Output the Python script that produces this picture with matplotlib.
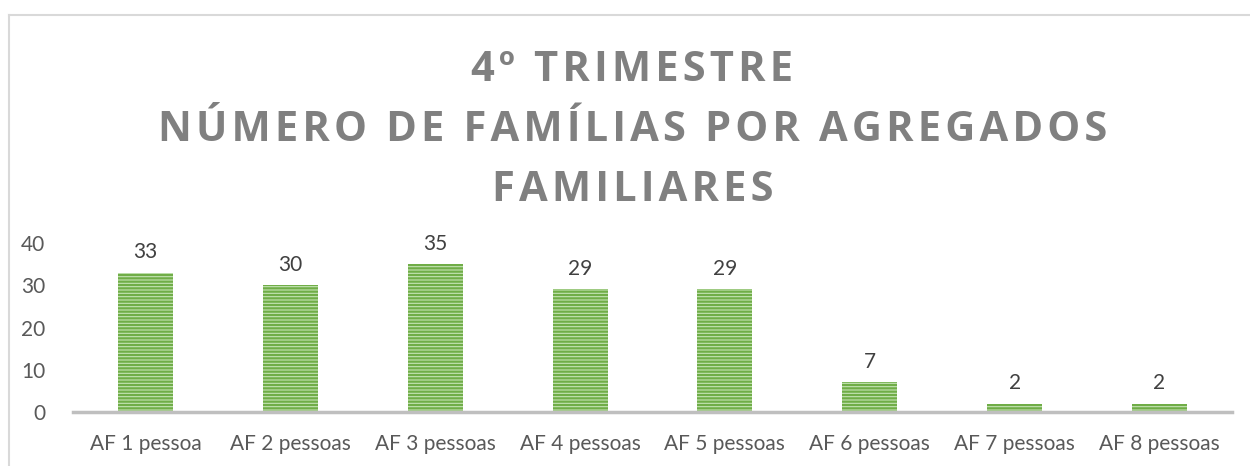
import matplotlib
matplotlib.use("Agg")
import matplotlib.pyplot as plt
from matplotlib.lines import Line2D

categories = ["AF 1 pessoa", "AF 2 pessoas", "AF 3 pessoas", "AF 4 pessoas",
              "AF 5 pessoas", "AF 6 pessoas", "AF 7 pessoas", "AF 8 pessoas"]
values = [33, 30, 35, 29, 29, 7, 2, 2]
yticks = [0, 10, 20, 30, 40]
title_lines = ["4º TRIMESTRE", "NÚMERO DE FAMÍLIAS POR AGREGADOS", "FAMILIARES"]


def spaced(s):
    # letter spacing with hair spaces
    return "\u200a".join(s)


plt.rcParams["hatch.linewidth"] = 1.6
fig = plt.figure(figsize=(12.5, 4.66), dpi=100)
ax = fig.add_axes([0.0584, 0.1159, 0.9272, 0.3626])

x = range(len(categories))
bars = ax.bar(x, values, width=0.38, color="#c5e4b4", edgecolor="#70AD47",
              hatch="-----", linewidth=0)
for xi, v in zip(x, values):
    ax.text(xi, v + 2.4, str(v), ha="center", va="bottom",
            fontsize=15, color="#404040", family="Lato")

ax.set_xlim(-0.5, len(categories) - 0.5)
ax.set_ylim(0, 40)
ax.set_yticks(yticks)
ax.set_xticks(list(x))
ax.set_xticklabels(categories)
for s in ["top", "right", "left"]:
    ax.spines[s].set_visible(False)
ax.spines["bottom"].set_color("#bfbfbf")
ax.spines["bottom"].set_linewidth(2.5)
ax.tick_params(length=0, labelsize=15, labelcolor="#595959", pad=16)
ax.tick_params(axis="y", pad=20)
for lab in ax.get_xticklabels() + ax.get_yticklabels():
    lab.set_family("Lato")

fig.text(0.506, 0.72, "\n".join(spaced(t) for t in title_lines),
         ha="center", va="center", fontsize=30, fontweight="bold",
         color="#808080", family=["Open Sans", "DejaVu Sans"],
         linespacing=1.6)

# chart frame
fig.add_artist(Line2D([0.0072, 1.0], [0.968, 0.968], color="#d9d9d9", lw=1.5))
fig.add_artist(Line2D([0.0072, 0.0072], [0.0, 0.968], color="#d9d9d9", lw=1.5))

fig.savefig("out.png", dpi=100)
